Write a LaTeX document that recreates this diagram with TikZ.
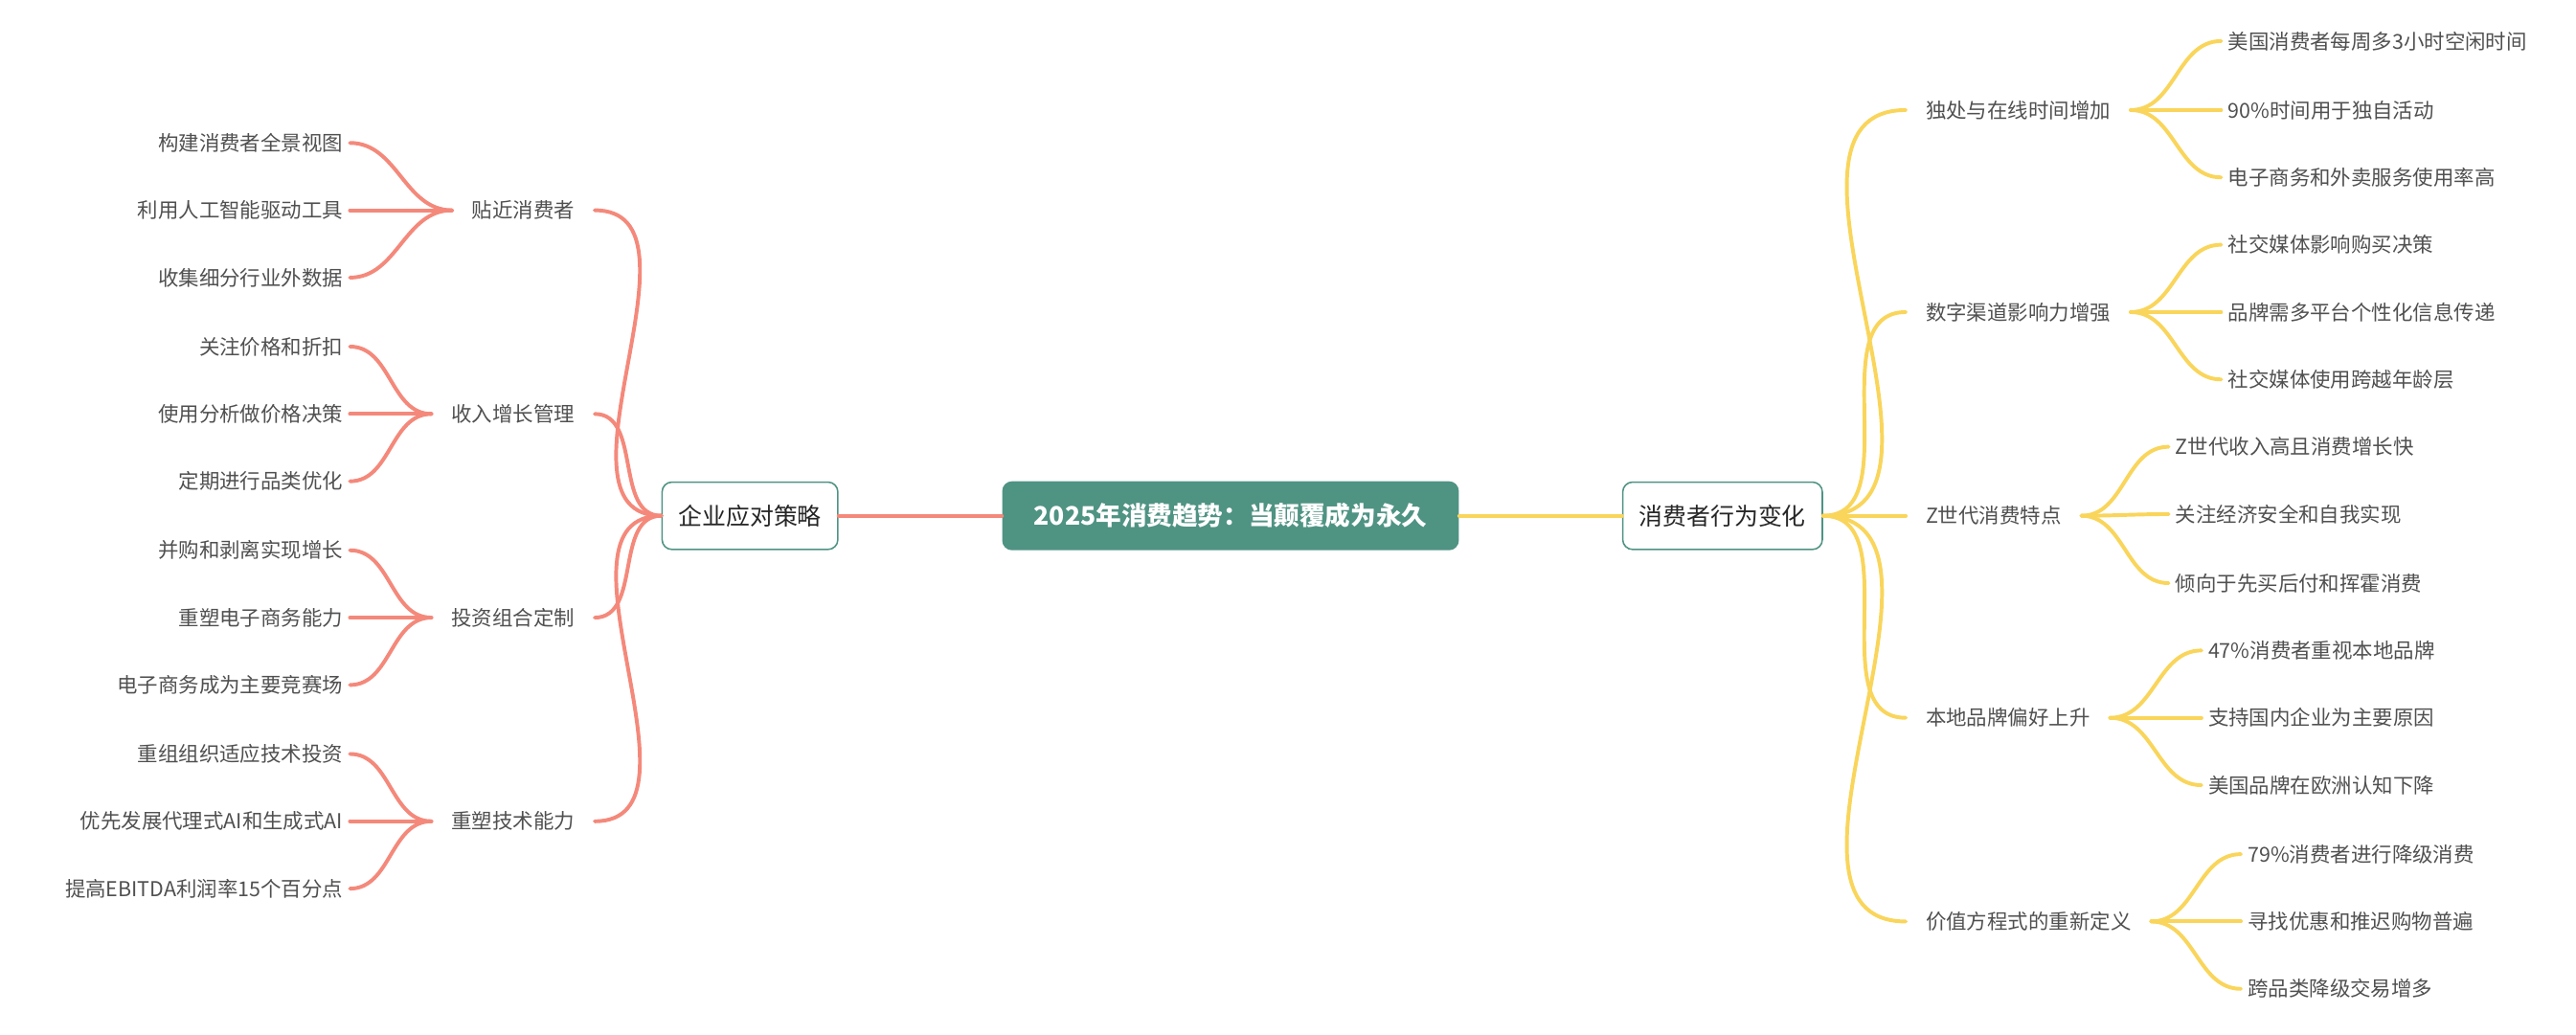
\documentclass[tikz,border=0pt]{standalone}
\usepackage{fontspec}
\setmainfont{Noto Sans CJK SC}
\definecolor{teal}{HTML}{4F9383}
\definecolor{sal}{HTML}{F4897B}
\definecolor{yel}{HTML}{F9D55B}
\definecolor{txt}{HTML}{505050}
\begin{document}
\begin{tikzpicture}[x=1pt,y=-1pt,
 leaf/.style={font=\fontsize{12.5}{15}\selectfont, text=txt, inner sep=4pt},
 branch/.style={font=\fontsize{12.5}{15}\selectfont, text=txt, inner ysep=4pt, inner xsep=12pt},
 topic/.style={font=\fontsize{14.5}{17}\selectfont, text=black!85, draw=teal, fill=white, rounded corners=6pt, line width=0.9pt, minimum height=41pt, inner xsep=10pt},
 lc/.style={draw=sal, line width=2.3pt, line cap=round},
 rc/.style={draw=yel, line width=2.3pt, line cap=round},
 cv/.style={out=0,in=180,looseness=0.9}]
\useasboundingbox (0,0) rectangle (1568,630);
\node[fill=teal, rounded corners=6pt, text=white, font=\bfseries\fontsize{15.5}{18}\selectfont, minimum height=42pt, minimum width=278pt] (C) at (749,314) {2025年消费趋势：当颠覆成为永久};
\node[topic] (L) at (456.5,314) {企业应对策略};
\node[topic] (R) at (1048.5,314) {消费者行为变化};
\draw[lc] (C.west) -- (L.east);
\draw[rc] (C.east) -- (R.west);
% left branches
\foreach \i/\y/\t in {1/128/贴近消费者,2/252/收入增长管理,3/376/投资组合定制,4/500/重塑技术能力}{
 \node[branch,anchor=east] (lb\i) at (362,\y) {\t};
 \draw[lc] (L.west) to[out=180,in=0] (lb\i.east);
}
\foreach \b/\j/\y/\t in {1/1/87/构建消费者全景视图,1/2/128/利用人工智能驱动工具,1/3/169/收集细分行业外数据,
 2/1/211/关注价格和折扣,2/2/252/使用分析做价格决策,2/3/293/定期进行品类优化,
 3/1/335/并购和剥离实现增长,3/2/376/重塑电子商务能力,3/3/417/电子商务成为主要竞赛场,
 4/1/459/重组组织适应技术投资,4/2/500/优先发展代理式AI和生成式AI,4/3/541/提高EBITDA利润率15个百分点}{
 \node[leaf,anchor=east] (l\b\j) at (213,\y) {\t};
 \draw[lc] (lb\b.west) to[out=180,in=0] (l\b\j.east);
}
% right branches
\foreach \i/\y/\t in {1/67/独处与在线时间增加,2/190/数字渠道影响力增强,3/314/Z世代消费特点,4/437/本地品牌偏好上升,5/561/价值方程式的重新定义}{
 \node[branch,anchor=west] (rb\i) at (1160,\y) {\t};
 \draw[rc] (R.east) to[out=0,in=180] (rb\i.west);
}
\foreach \b/\x/\j/\y/\t in {1/1352/1/25/美国消费者每周多3小时空闲时间,1/1352/2/67/90\%时间用于独自活动,1/1352/3/108/电子商务和外卖服务使用率高,
 2/1352/1/149/社交媒体影响购买决策,2/1352/2/190/品牌需多平台个性化信息传递,2/1352/3/231/社交媒体使用跨越年龄层,
 3/1320/1/272/Z世代收入高且消费增长快,3/1320/2/313/关注经济安全和自我实现,3/1320/3/355/倾向于先买后付和挥霍消费,
 4/1340/1/396/47\%消费者重视本地品牌,4/1340/2/437/支持国内企业为主要原因,4/1340/3/478/美国品牌在欧洲认知下降,
 5/1364/1/520/79\%消费者进行降级消费,5/1364/2/561/寻找优惠和推迟购物普遍,5/1364/3/602/跨品类降级交易增多}{
 \node[leaf,anchor=west] (r\b\j) at (\x,\y) {\t};
 \draw[rc] (rb\b.east) to[out=0,in=180] (r\b\j.west);
}
\end{tikzpicture}
\end{document}
